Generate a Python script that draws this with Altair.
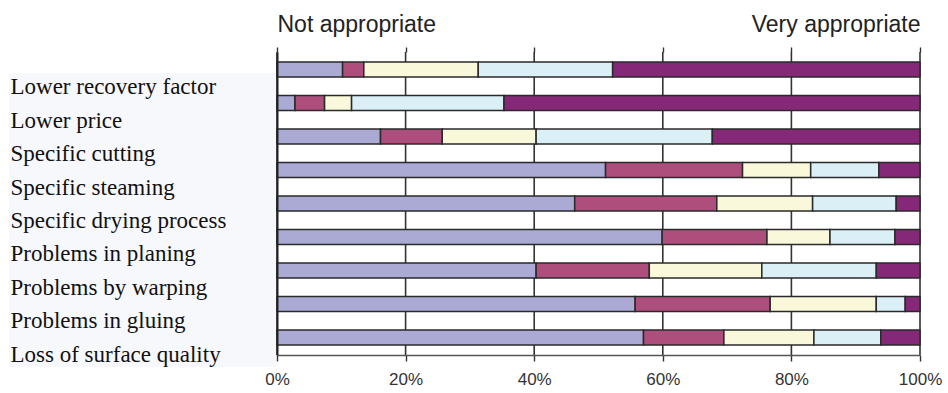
import altair as alt
import pandas as pd

# Reasons (top to bottom) and share of answers per rating level, in percent
reasons = [
    "Lower recovery factor",
    "Lower price",
    "Specific cutting",
    "Specific steaming",
    "Specific drying process",
    "Problems in planing",
    "Problems by warping",
    "Problems in gluing",
    "Loss of surface quality",
]
level_1 = [10.2, 2.8, 16.1, 51.1, 46.3, 59.9, 40.3, 55.7, 57.0]
level_2 = [3.3, 4.6, 9.6, 21.3, 22.1, 16.3, 17.6, 21.0, 12.5]
level_3 = [17.8, 4.2, 14.6, 10.6, 14.9, 9.8, 17.5, 16.5, 14.0]
level_4 = [20.9, 23.7, 27.4, 10.6, 13.0, 10.1, 17.8, 4.5, 10.4]
level_5 = [47.8, 64.7, 32.3, 6.4, 3.7, 3.9, 6.8, 2.3, 6.1]

levels = [1, 2, 3, 4, 5]
level_colors = ["#AAAAD5", "#AE4E7D", "#FAF8DA", "#DAF0F6", "#862878"]
grid_ticks = [0.0, 0.2, 0.4, 0.6, 0.8, 1.0]

rows = []
for lvl, series in zip(levels, [level_1, level_2, level_3, level_4, level_5]):
    for reason, share in zip(reasons, series):
        rows.append({"reason": reason, "level": lvl, "share": share})
df = pd.DataFrame(rows)
grid_df = pd.DataFrame({"pos": grid_ticks})

x_scale = alt.Scale(domain=[0, 1], nice=False)

# light panel behind the category labels
panel = alt.Chart(grid_df).mark_rect(color="#F7F8FC").encode(
    x=alt.value(-268), x2=alt.value(-1), y=alt.value(21), y2=alt.value(315)
)

# vertical gridlines, also carrying the top scale annotation
grid = alt.Chart(grid_df).mark_rule(color="#333333", strokeWidth=1.6).encode(
    x=alt.X(
        "pos:Q",
        scale=x_scale,
        axis=alt.Axis(
            orient="top",
            values=grid_ticks,
            title=None,
            grid=False,
            domain=False,
            tickSize=5,
            tickColor="#333333",
            tickWidth=1.4,
            labelExpr="datum.value == 0 ? 'Not appropriate' : (datum.value == 1 ? 'Very appropriate' : '')",
            labelFlush=True,
            labelFlushOffset=0,
            labelFont="Liberation Sans",
            labelFontSize=23,
            labelColor="#222222",
            labelPadding=11,
            zindex=1,
        ),
    )
)

bars = alt.Chart(df).mark_bar(stroke="#2a2a2a", strokeWidth=1.5).encode(
    x=alt.X(
        "share:Q",
        stack="normalize",
        scale=x_scale,
        axis=alt.Axis(
            orient="bottom",
            values=grid_ticks,
            format=".0%",
            title=None,
            grid=False,
            labelFlush=False,
            domainColor="#555555",
            domainWidth=1.5,
            tickSize=6,
            tickColor="#333333",
            tickWidth=1.4,
            labelFont="Liberation Sans",
            labelFontSize=17,
            labelColor="#333333",
            labelPadding=10,
            zindex=1,
        ),
    ),
    y=alt.Y(
        "reason:N",
        sort=reasons,
        scale=alt.Scale(paddingInner=0.55, paddingOuter=0.3),
        axis=alt.Axis(
            title=None,
            ticks=False,
            domain=True,
            domainColor="#222222",
            domainWidth=2,
            labelAlign="left",
            labelPadding=267,
            labelOffset=17.5,
            labelLimit=320,
            labelFont="Liberation Serif",
            labelFontSize=23,
            labelColor="#111111",
            zindex=1,
        ),
    ),
    color=alt.Color(
        "level:O",
        scale=alt.Scale(domain=levels, range=level_colors),
        legend=None,
    ),
    order=alt.Order("level:Q"),
)

chart = (
    alt.layer(panel, grid, bars)
    .resolve_axis(x="independent")
    .properties(
        width=643,
        height=303,
        background="white",
        padding={"left": 277, "top": 52, "right": 28, "bottom": 38},
        autosize=alt.AutoSizeParams(type="none"),
    )
    .configure_view(stroke=None)
)

chart.save("out.html", embed_options={"renderer": "svg", "actions": False})
